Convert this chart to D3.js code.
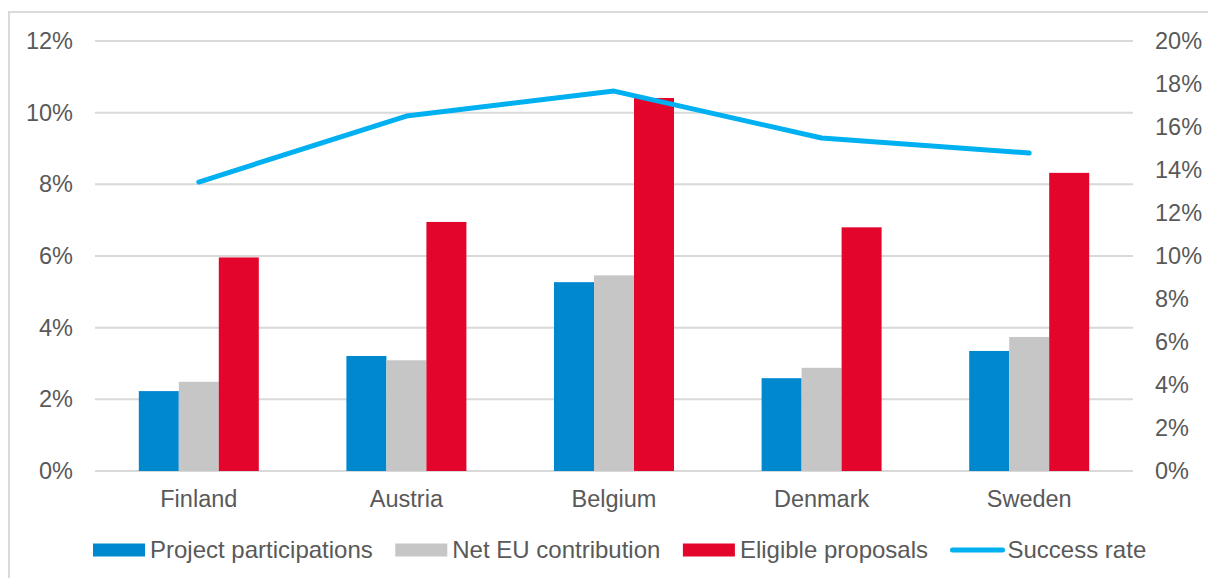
<!DOCTYPE html>
<html><head><meta charset="utf-8">
<script src="https://cdn.jsdelivr.net/npm/d3@7"></script>
<style>html,body{margin:0;padding:0;background:#fff;}svg{display:block;font-family:"Liberation Sans",Arial,sans-serif;}</style>
</head><body>
<svg id="chart" width="1208" height="578"></svg>
<script>
const categories = ["Finland","Austria","Belgium","Denmark","Sweden"];
const seriesNames = ["Project participations","Net EU contribution","Eligible proposals"];
const projectParticipations = [0.0223,0.0321,0.0527,0.0259,0.0335];
const netEUContribution = [0.0249,0.0309,0.0546,0.0288,0.0374];
const eligibleProposals = [0.0596,0.0695,0.1041,0.0680,0.0832];
const successRate = [0.1344,0.1651,0.1767,0.1549,0.1479];
const leftTicks = [0,0.02,0.04,0.06,0.08,0.10,0.12];
const rightTicks = [0,0.02,0.04,0.06,0.08,0.10,0.12,0.14,0.16,0.18,0.20];
const barColors = ["#0088cf","#c6c6c6","#e3052b"];
const lineColor = "#00b0f0";
const barSeries = [projectParticipations, netEUContribution, eligibleProposals];

const svg = d3.select("#chart");
const L = 95, R = 1133, T = 41, B = 471;
const textColor = "#595959", fs = "23.5px", lfs = "24px";
const ff = "Liberation Sans, Arial, sans-serif";

// frame
svg.append("rect").attr("x",9).attr("y",12).attr("width",1400).attr("height",800)
  .attr("fill","none").attr("stroke","#d9d9d9").attr("stroke-width",2);

const yL = d3.scaleLinear().domain([0,0.12]).range([B,T]);
const yR = d3.scaleLinear().domain([0,0.20]).range([B,T]);
const x0 = d3.scaleBand().domain(categories).range([L,R]).paddingInner(0.422).paddingOuter(0.211);
const x1 = d3.scaleBand().domain(seriesNames).range([0,x0.bandwidth()]);

// gridlines
svg.append("g").selectAll("line").data(leftTicks).join("line")
  .attr("x1",L).attr("x2",R).attr("y1",d=>yL(d)).attr("y2",d=>yL(d))
  .attr("stroke","#d9d9d9").attr("stroke-width",2);

const fmt = d3.format(".0%");
const axL = d3.axisLeft(yL).tickValues(leftTicks).tickFormat(fmt).tickSize(0).tickPadding(22);
const gL = svg.append("g").attr("transform",`translate(${L},0)`).call(axL);
gL.select(".domain").remove();
gL.selectAll("text").attr("fill",textColor).style("font-size",fs).style("font-family",ff);

const axR = d3.axisRight(yR).tickValues(rightTicks).tickFormat(fmt).tickSize(0).tickPadding(22);
const gR = svg.append("g").attr("transform",`translate(${R},0)`).call(axR);
gR.select(".domain").remove();
gR.selectAll("text").attr("fill",textColor).style("font-size",fs).style("font-family",ff);

// bars
const groups = svg.append("g").selectAll("g").data(categories).join("g")
  .attr("transform",d=>`translate(${x0(d)},0)`);
groups.selectAll("rect").data((c,i)=>seriesNames.map((s,j)=>({s, j, v: barSeries[j][i]}))).join("rect")
  .attr("x",d=>x1(d.s)).attr("width",x1.bandwidth())
  .attr("y",d=>yL(d.v)).attr("height",d=>B-yL(d.v))
  .attr("fill",d=>barColors[d.j]);

// category axis
const axX = d3.axisBottom(x0).tickSize(0).tickPadding(19);
const gX = svg.append("g").attr("transform",`translate(0,${B})`).call(axX);
gX.select(".domain").remove();
gX.selectAll("text").attr("fill",textColor).style("font-size",fs).style("font-family",ff);

// line
const line = d3.line().x((d,i)=>x0(categories[i])+x0.bandwidth()/2).y(d=>yR(d));
svg.append("path").datum(successRate).attr("d",line).attr("fill","none")
  .attr("stroke",lineColor).attr("stroke-width",5).attr("stroke-linecap","round").attr("stroke-linejoin","round");

// legend
const legendItems = seriesNames.map((n,i)=>({n, c:barColors[i], t:"bar"})).concat([{n:"Success rate", c:lineColor, t:"line"}]);
const lg = svg.append("g");
let lx = 93;
const ly = 550;
legendItems.forEach(it=>{
  if (it.t==="bar") {
    lg.append("rect").attr("x",lx).attr("y",ly-6.5).attr("width",52).attr("height",13).attr("fill",it.c);
  } else {
    lg.append("line").attr("x1",lx+2).attr("x2",lx+52).attr("y1",ly).attr("y2",ly)
      .attr("stroke",it.c).attr("stroke-width",5).attr("stroke-linecap","round");
  }
  const t = lg.append("text").attr("x",lx+57).attr("y",ly+8).attr("fill",textColor)
    .style("font-size",lfs).style("font-family",ff).text(it.n);
  lx += 57 + t.node().getComputedTextLength() + 22.5;
});
</script>
</body></html>
